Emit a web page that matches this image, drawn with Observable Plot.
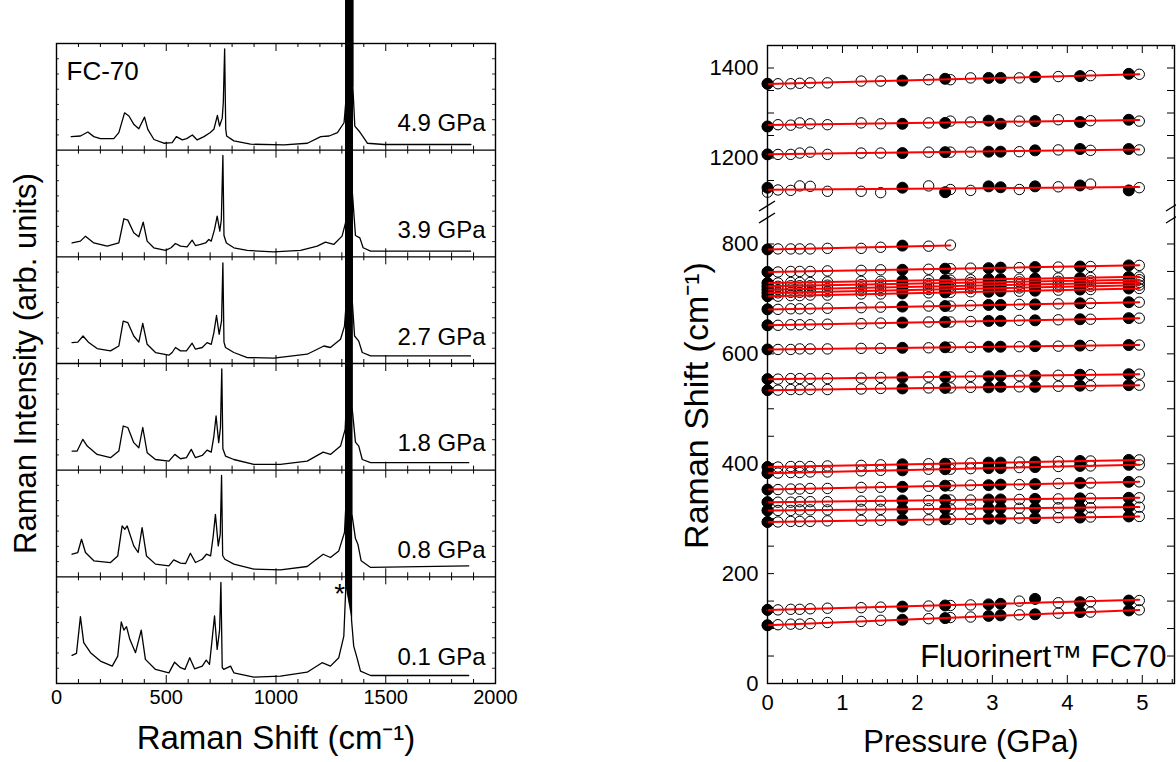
<!DOCTYPE html>
<html><head><meta charset="utf-8">
<script src="https://cdn.jsdelivr.net/npm/d3@7"></script>
<script src="https://cdn.jsdelivr.net/npm/@observablehq/plot@0.6"></script>
<style>
body{margin:0;background:#fff;}
#wrap{position:relative;width:1176px;height:762px;overflow:hidden;background:#fff;}
#wrap svg{position:absolute;top:0;}
</style></head><body><div id="wrap"></div>
<script>
// ---------------- Left panel: Raman spectra (offset, bottom = 0.1 GPa) ----------------
const spectrumLabels = ["0.1 GPa", "0.8 GPa", "1.8 GPa", "2.7 GPa", "3.9 GPa", "4.9 GPa"];
const spec01 = [[71,.263],[91,.282],[109,.627],[124,.383],[155,.289],[200,.21],[254,.163],[279,.257],[295,.577],[307,.50],[319,.533],[334,.414],[360,.289],[386,.50],[405,.226],[451,.132],[512,.10],[538,.20],[565,.148],[585,.132],[607,.242],[629,.138],[664,.163],[682,.219],[697,.179],[709,.414],[720,.633],[732,.32],[743,.5],[749,.947],[755,.15],[762,.132],[793,.163],[808,.10],[899,.06],[1020,.069],[1142,.106],[1210,.195],[1248,.163],[1286,.242],[1309,.445],[1318,.9],[1322,30],[1340,30],[1344,.6],[1354,.351],[1367,.257],[1385,.116],[1431,.075],[1878,.075]];
const spec08 = [[71,.212],[97,.228],[114,.352],[132,.228],[170,.15],[246,.134],[279,.196],[299,.477],[311,.446],[322,.477],[352,.29],[372,.228],[390,.462],[410,.196],[451,.119],[512,.103],[534,.159],[565,.128],[588,.125],[610,.221],[633,.134],[664,.165],[683,.212],[702,.196],[714,.383],[724,.586],[737,.29],[746,.4],[752,.95],[757,.2],[767,.165],[808,.119],[899,.072],[1020,.065],[1142,.097],[1215,.212],[1248,.181],[1286,.243],[1312,.415],[1319,.7],[1323,30],[1341,30],[1345,.6],[1362,.359],[1373,.306],[1388,.15],[1431,.088],[1878,.103]];
const spec18 = [[71,.179],[94,.179],[120,.289],[140,.226],[185,.148],[246,.117],[284,.179],[304,.414],[325,.40],[352,.258],[375,.21],[393,.40],[413,.164],[451,.10],[512,.085],[539,.148],[565,.107],[592,.117],[614,.195],[633,.117],[664,.138],[686,.188],[705,.169],[717,.32],[727,.508],[739,.258],[747,.4],[753,.95],[758,.2],[770,.132],[808,.10],[899,.054],[1020,.054],[1142,.085],[1215,.169],[1248,.148],[1294,.226],[1315,.383],[1320,.6],[1324,30],[1342,30],[1346,.6],[1362,.263],[1377,.226],[1393,.10],[1431,.07],[1878,.07]];
const spec27 = [[71,.196],[97,.20],[121,.258],[147,.196],[185,.14],[246,.118],[284,.164],[304,.398],[325,.383],[352,.258],[375,.20],[393,.377],[413,.18],[451,.103],[512,.078],[527,.103],[542,.15],[565,.118],[592,.118],[618,.19],[633,.134],[664,.15],[686,.196],[705,.18],[717,.29],[729,.45],[741,.274],[752,.4],[758,.944],[763,.2],[770,.15],[808,.103],[869,.056],[990,.05],[1142,.087],[1218,.164],[1248,.15],[1294,.227],[1312,.35],[1321,.6],[1325,30],[1343,30],[1347,.6],[1358,.258],[1377,.21],[1393,.103],[1431,.071],[1886,.071]];
const spec39 = [[71,.13],[109,.147],[132,.194],[170,.13],[231,.10],[284,.13],[307,.357],[325,.344],[352,.226],[375,.188],[395,.325],[413,.147],[443,.085],[497,.06],[522,.085],[542,.125],[565,.10],[595,.094],[618,.156],[633,.106],[656,.116],[679,.13],[694,.163],[705,.147],[720,.257],[732,.382],[744,.241],[751,.35],[758,.95],[763,.2],[774,.13],[808,.085],[869,.06],[990,.047],[1112,.06],[1188,.10],[1225,.138],[1263,.116],[1301,.194],[1317,.32],[1322,.6],[1326,30],[1344,30],[1348,.6],[1362,.20],[1382,.178],[1397,.085],[1431,.053],[1886,.053]];
const spec49 = [[67,.127],[109,.133],[143,.17],[170,.127],[200,.108],[261,.108],[284,.164],[310,.35],[330,.32],[353,.24],[375,.2],[401,.31],[416,.195],[444,.10],[489,.065],[527,.071],[546,.127],[573,.096],[593,.108],[619,.142],[641,.096],[672,.127],[699,.164],[717,.195],[733,.325],[743,.226],[755,.30],[760,.45],[766,.95],[771,.2],[775,.133],[808,.087],[884,.056],[1036,.05],[1143,.065],[1204,.127],[1242,.133],[1280,.164],[1310,.257],[1324,.6],[1328,30],[1346,30],[1350,.6],[1359,.226],[1378,.18],[1394,.133],[1416,.065],[1492,.053],[1888,.053]];
const asteriskMark = [{x: 1290, v: 0.84}];
const xLabelsLeft = [0, 500, 1000, 1500, 2000];
const xMinorLeft = [100,200,300,400,600,700,800,900,1100,1200,1300,1400,1600,1700,1800,1900];
const xMajorLeft = [500, 1000, 1500];

// ---------------- Right panel: mode frequencies vs pressure ----------------
const pressFilled = [0, 1.80, 2.37, 2.95, 3.11, 3.57, 4.17, 4.82];
const pressOpen = [0, 0.14, 0.31, 0.43, 0.57, 0.80, 1.25, 1.51, 2.15, 2.44, 2.71, 3.36, 3.88, 4.31, 4.96];
const mode01F = [1365, 1372, 1376, 1378, 1378, 1380, 1382, 1387];
const mode01O = [1365, 1365, 1365, 1366, 1367, 1367, 1371, 1371, 1374, 1374, 1378, 1378, 1381, 1383, 1386];
const mode02F = [1270, 1276, 1278, 1283, 1276, 1282, 1280, 1285];
const mode02O = [1270, 1274, 1273, 1278, 1276, 1274, 1278, 1276, 1278, 1282, 1280, 1282, 1285, 1283, 1282];
const mode03F = [1208, 1211, 1213, 1214, 1214, 1217, 1220, 1220];
const mode03O = [1208, 1208, 1208, 1211, 1213, 1208, 1211, 1211, 1213, 1213, 1213, 1214, 1218, 1217, 1218];
const mode04F = [1134, 1134, 1124, 1137, 1135, 1137, 1139, 1128];
const mode04O = [1124, 1129, 1128, 1138, 1137, 1126, 1126, 1123, 1138, 1130, 1128, 1130, 1136, 1142, 1134];
const mode05F = [790, 797, null, null, null, null, null, null];
const mode05O = [790, 791, 791, 791, 791, 792, 792, 794, 796, 798, null, null, null, null, null];
const mode06F = [749, 753, 755, 756, 757, 758, 759, 761];
const mode06O = [749, 749, 750, 750, 750, 751, 752, 753, 754, 755, 756, 757, 758, 759, 761];
const mode07F = [729, 733, 734, 736, 736, 737, 738, 740];
const mode07O = [729, 729, 730, 730, 730, 731, 732, 732, 734, 734, 735, 736, 738, 739, 740];
const mode08F = [723, 727, 729, 730, 731, 732, 733, 735];
const mode08O = [723, 723, 724, 724, 724, 725, 726, 727, 728, 729, 730, 731, 732, 733, 735];
const mode09F = [717, 722, 723, 725, 725, 726, 728, 730];
const mode09O = [717, 717, 718, 718, 718, 719, 720, 721, 723, 723, 724, 726, 727, 728, 730];
const mode10F = [711, 716, 718, 719, 720, 721, 723, 725];
const mode10O = [711, 711, 712, 712, 713, 713, 715, 715, 717, 718, 719, 720, 722, 723, 725];
const mode11F = [705, 710, 712, 713, 714, 715, 717, 719];
const mode11O = [705, 705, 706, 706, 707, 707, 709, 709, 711, 712, 713, 714, 716, 717, 719];
const mode12F = [681, 686, 687, 689, 689, 690, 692, 694];
const mode12O = [681, 681, 682, 682, 682, 683, 684, 685, 687, 687, 688, 690, 691, 692, 694];
const mode13F = [652, 657, 658, 660, 660, 661, 663, 665];
const mode13O = [652, 652, 653, 653, 653, 654, 655, 656, 658, 658, 659, 661, 662, 663, 665];
const mode14F = [608, 611, 612, 613, 613, 614, 615, 616];
const mode14O = [608, 608, 608, 609, 609, 609, 610, 610, 611, 612, 612, 613, 614, 615, 616];
const mode15F = [554, 557, 558, 559, 560, 560, 562, 563];
const mode15O = [554, 554, 555, 555, 555, 555, 556, 557, 558, 558, 559, 560, 561, 562, 563];
const mode16F = [534, 537, 538, 539, 540, 540, 542, 543];
const mode16O = [534, 534, 535, 535, 535, 535, 536, 537, 538, 538, 539, 540, 541, 542, 543];
const mode17F = [394, 399, 400, 402, 402, 403, 405, 407];
const mode17O = [394, 394, 395, 395, 395, 396, 397, 398, 400, 400, 401, 403, 404, 405, 407];
const mode18F = [383, 388, 390, 392, 392, 394, 396, 398];
const mode18O = [383, 383, 384, 384, 385, 385, 387, 388, 390, 390, 391, 393, 395, 396, 398];
const mode19F = [353, 358, 360, 361, 362, 363, 365, 367];
const mode19O = [353, 353, 354, 354, 355, 355, 357, 357, 359, 360, 361, 362, 364, 365, 367];
const mode20F = [330, 333, 334, 335, 335, 336, 337, 338];
const mode20O = [330, 330, 330, 331, 331, 331, 332, 332, 333, 334, 334, 335, 336, 337, 338];
const mode21F = [315, 317, 318, 319, 319, 319, 320, 321];
const mode21O = [315, 315, 315, 316, 316, 316, 317, 317, 318, 318, 318, 319, 320, 320, 321];
const mode22F = [294, 298, 299, 300, 300, 301, 302, 304];
const mode22O = [294, 294, 295, 295, 295, 296, 297, 297, 298, 299, 299, 301, 302, 303, 304];
const mode23F = [134, 140, 142, 144, 145, 154, 148, 151];
const mode23O = [134, 134, 135, 135, 136, 137, 138, 139, 141, 142, 143, 150, 147, 149, 151];
const mode24F = [106, 116, 119, 123, 124, 126, 130, 133];
const mode24O = [106, 107, 108, 108, 109, 111, 113, 115, 118, 120, 121, 125, 128, 130, 134];
const xLabelsRight = [0, 1, 2, 3, 4, 5];
const xMinorRight = [0.2,0.4,0.6,0.8,1.2,1.4,1.6,1.8,2.2,2.4,2.6,2.8,3.2,3.4,3.6,3.8,4.2,4.4,4.6,4.8,5.2,5.4];
const xMajorRight = [1, 2, 3, 4, 5];
const yLabelsRight = [0, 200, 400, 600, 800, 1200, 1400];
const yTicksRight = [50,100,150,200,250,300,350,400,450,500,550,600,650,700,750,800,1150,1200,1250,1300,1350,1400];
const yBreak = [0, 850, 1090, 1450];

// ================= build =================
const font = "'Liberation Sans', Arial, Helvetica, sans-serif";
const wrap = document.getElementById("wrap");
const spectra = [spec01, spec08, spec18, spec27, spec39, spec49];
const specRows = spectra.flatMap((s, i) => s.map(([x, v]) => ({i, x, v})));
const peakRows = spectra.flatMap((s, i) => s.filter(([x, v]) => v >= 0.6 && x > 1300 && x < 1360).map(([x, v]) => ({i, x, v})));
const labelRows = spectrumLabels.map((label, i) => ({i, label}));
const bounds = [0, 1, 2, 3, 4, 5, 6];
const upRows = (xs) => bounds.slice(0, 6).flatMap(b => xs.map(x => ({x, b})));
const downRows = (xs) => bounds.slice(1).flatMap(b => xs.map(x => ({x, b})));
const yEdge = d3.range(6).flatMap(i => d3.range(1, 7).map(k => i + k / 7));

const left = Plot.plot({
  width: 520, height: 762,
  marginLeft: 56, marginRight: 25, marginTop: 43, marginBottom: 79,
  x: {domain: [0, 2000]},
  y: {domain: [0, 6], axis: null},
  style: {fontFamily: font, background: "transparent", overflow: "visible", color: "black"},
  marks: [
    Plot.ruleY([1, 2, 3, 4, 5], {stroke: "black", strokeWidth: 1.4}),
    Plot.ruleX(upRows(xMinorLeft), {x: "x", y1: "b", y2: "b", insetTop: -4, stroke: "black", strokeWidth: 1}),
    Plot.ruleX(upRows(xMajorLeft), {x: "x", y1: "b", y2: "b", insetTop: -8, stroke: "black", strokeWidth: 1}),
    Plot.ruleX(downRows(xMinorLeft), {x: "x", y1: "b", y2: "b", insetBottom: -4, stroke: "black", strokeWidth: 1}),
    Plot.ruleX(downRows(xMajorLeft), {x: "x", y1: "b", y2: "b", insetBottom: -8, stroke: "black", strokeWidth: 1}),
    Plot.ruleY(yEdge, {y: d => d, x1: 0, x2: 0, insetRight: -3, stroke: "black", strokeWidth: 0.8}),
    Plot.ruleY(yEdge, {y: d => d, x1: 2000, x2: 2000, insetLeft: -3, stroke: "black", strokeWidth: 0.8}),
    Plot.line(specRows, {x: "x", y: d => d.i + d.v, z: "i", stroke: "black", strokeWidth: 1.3}),
    Plot.line(peakRows, {x: "x", y: d => d.i + d.v, z: "i", fill: "black", stroke: "black", strokeWidth: 1}),
    Plot.frame({stroke: "black", strokeWidth: 1.4}),
    Plot.text(labelRows, {y: d => d.i + 0.25, text: "label", frameAnchor: "right", dx: -10, textAnchor: "end", lineAnchor: "middle", fontSize: 24, fill: "black"}),
    Plot.text(["FC-70"], {frameAnchor: "top-left", dx: 10, dy: 28, textAnchor: "start", lineAnchor: "middle", fontSize: 26, fill: "black"}),
    Plot.text(asteriskMark, {x: "x", y: "v", text: () => "*", fontSize: 28, fill: "black"}),
    Plot.axisX({ticks: xLabelsLeft, tickSize: 0, tickPadding: 6, fontSize: 20, tickFormat: d => `${d}`, label: null}),
    Plot.text(["Raman Shift (cm⁻¹)"], {frameAnchor: "bottom", dy: 55, textAnchor: "middle", lineAnchor: "middle", fontSize: 33, fill: "black"}),
    Plot.text(["Raman Intensity (arb. units)"], {frameAnchor: "left", dx: -30, dy: 0, rotate: -90, textAnchor: "middle", lineAnchor: "middle", fontSize: 31, fill: "black"})
  ]
});
left.style.left = "0px";
wrap.appendChild(left);

const modesF = [mode01F, mode02F, mode03F, mode04F, mode05F, mode06F, mode07F, mode08F, mode09F, mode10F, mode11F, mode12F, mode13F, mode14F, mode15F, mode16F, mode17F, mode18F, mode19F, mode20F, mode21F, mode22F, mode23F, mode24F];
const modesO = [mode01O, mode02O, mode03O, mode04O, mode05O, mode06O, mode07O, mode08O, mode09O, mode10O, mode11O, mode12O, mode13O, mode14O, mode15O, mode16O, mode17O, mode18O, mode19O, mode20O, mode21O, mode22O, mode23O, mode24O];
const filledPts = modesF.flatMap((arr, m) => arr.map((v, k) => ({mode: m, P: pressFilled[k], v}))).filter(d => d.v != null);
const openPts = modesO.flatMap((arr, m) => arr.map((v, k) => ({mode: m, P: pressOpen[k], v}))).filter(d => d.v != null);
const allPts = filledPts.concat(openPts);

const right = Plot.plot({
  width: 536, height: 762,
  marginLeft: 127, marginRight: 2, marginTop: 45, marginBottom: 79,
  x: {domain: [0, 5.43]},
  y: {type: "linear", domain: yBreak, range: [683, 216, 207, 45]},
  style: {fontFamily: font, background: "transparent", overflow: "visible", color: "black"},
  marks: [
    Plot.ruleX(xMinorRight, {x: d => d, y1: 0, y2: 0, insetTop: -4, stroke: "black", strokeWidth: 1}),
    Plot.ruleX(xMajorRight, {x: d => d, y1: 0, y2: 0, insetTop: -8, stroke: "black", strokeWidth: 1}),
    Plot.ruleX(xMinorRight, {x: d => d, y1: 1450, y2: 1450, insetBottom: -4, stroke: "black", strokeWidth: 1}),
    Plot.ruleX(xMajorRight, {x: d => d, y1: 1450, y2: 1450, insetBottom: -8, stroke: "black", strokeWidth: 1}),
    Plot.ruleY(yTicksRight, {y: d => d, x1: 0, x2: 0, insetRight: -7, stroke: "black", strokeWidth: 1}),
    Plot.ruleY(yTicksRight, {y: d => d, x1: 5.43, x2: 5.43, insetLeft: -7, stroke: "black", strokeWidth: 1}),
    Plot.dot(filledPts, {x: "P", y: "v", r: 5.5, fill: "black", stroke: "black", strokeWidth: 1}),
    Plot.dot(openPts, {x: "P", y: "v", r: 5.2, fill: "none", stroke: "black", strokeWidth: 1}),
    Plot.linearRegressionY(allPts, {x: "P", y: "v", z: "mode", stroke: "#ff0000", strokeWidth: 2, ci: 0}),
    Plot.frame({stroke: "black", strokeWidth: 1.4}),
    Plot.axisX({ticks: xLabelsRight, tickSize: 0, tickPadding: 11, fontSize: 22, tickFormat: d => `${d}`, label: null}),
    Plot.axisY({ticks: yLabelsRight, tickSize: 0, tickPadding: 9, fontSize: 22, tickFormat: d => `${d}`, label: null}),
    Plot.text(["Pressure (GPa)"], {frameAnchor: "bottom", dy: 59, textAnchor: "middle", lineAnchor: "middle", fontSize: 31, fill: "black"}),
    Plot.text(["Raman Shift (cm⁻¹)"], {frameAnchor: "left", dx: -70, dy: 41, rotate: -90, textAnchor: "middle", lineAnchor: "middle", fontSize: 34, fill: "black"}),
    Plot.text(["Fluorinert™ FC70"], {frameAnchor: "bottom-right", dx: -8, dy: -26, textAnchor: "end", lineAnchor: "middle", fontSize: 31, fill: "black"})
  ]
});
right.style.left = "640px";
wrap.appendChild(right);

// axis break marks, positioned through the plot's own scales
const ys = right.scale("y"), xs = right.scale("x");
const svgR = d3.select(right);
const breakCenters = [ys.apply(1090) - 1, ys.apply(850) + 2];
[xs.apply(0), xs.apply(5.43)].forEach(x0 => {
  breakCenters.forEach(yc => {
    svgR.append("line").attr("x1", x0 - 8).attr("y1", yc + 5).attr("x2", x0 + 8).attr("y2", yc - 5)
      .attr("stroke", "black").attr("stroke-width", 1.3);
  });
});
</script></body></html>
